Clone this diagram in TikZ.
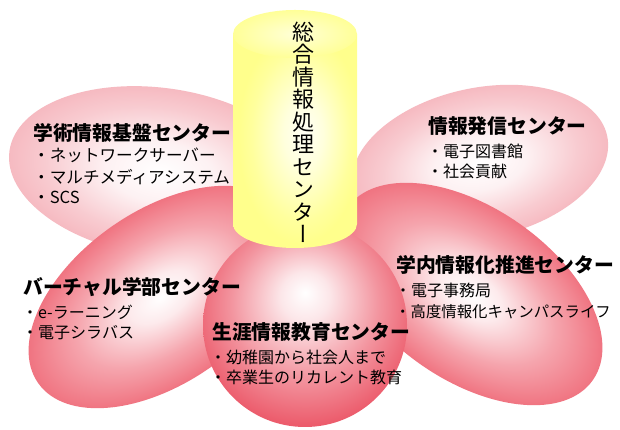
\documentclass[tikz,border=0pt]{standalone}
\usepackage{fontspec}
\newfontfamily\jp{Noto Sans CJK JP}
\newfontfamily\jpv[RawFeature=+vert]{Noto Sans CJK JP}
\definecolor{ptop}{RGB}{246,186,193}
\definecolor{pbot}{RGB}{240,116,129}
\definecolor{pcir}{RGB}{236,92,108}
\definecolor{cyl}{RGB}{255,255,140}
\pgfdeclareradialshading{shtop}{\pgfpointorigin}{color(0bp)=(white); color(9bp)=(ptop!20!white); color(19bp)=(ptop!75!white); color(25bp)=(ptop); color(50bp)=(ptop)}
\pgfdeclareradialshading{shbot}{\pgfpointorigin}{color(0bp)=(white); color(6bp)=(pbot!15!white); color(16bp)=(pbot!65!white); color(25bp)=(pbot); color(50bp)=(pbot)}
\pgfdeclareradialshading{shcir}{\pgfpoint{0bp}{8bp}}{color(0bp)=(white); color(6bp)=(pcir!15!white); color(18bp)=(pcir!65!white); color(28bp)=(pcir); color(50bp)=(pcir)}
\pgfdeclareradialshading{shcyl}{\pgfpoint{4bp}{2bp}}{color(0bp)=(cyl!8!white); color(8bp)=(cyl!30!white); color(20bp)=(cyl!85!white); color(25bp)=(cyl); color(50bp)=(cyl)}
\pgfdeclareradialshading{shcap}{\pgfpointorigin}{color(0bp)=(cyl!35!white); color(25bp)=(cyl!90!white); color(50bp)=(cyl!90!white)}
\begin{document}
\begin{tikzpicture}[x=1pt,y=1pt,
  head/.style={font=\jp\bfseries\fontsize{19.8}{20}\selectfont, anchor=west, inner sep=0pt, text height=17.4pt, text depth=2.4pt},
  item/.style={font=\jp\fontsize{16}{17}\selectfont, anchor=west, inner sep=0pt, text height=14.1pt, text depth=1.9pt}]
\useasboundingbox[fill=white] (0,0) rectangle (620,430);
% upper petals
\shade[shading=shtop, transform canvas={shift={(160,258)}, rotate=-8}] (0,0) ellipse [x radius=152, y radius=84];
\shade[shading=shtop, transform canvas={shift={(480,267)}, rotate=12}] (0,0) ellipse [x radius=130, y radius=75];
% lower petals
\shade[shading=shbot, transform canvas={shift={(161,133)}, rotate=35}] (0,0) ellipse [x radius=150, y radius=86];
\shade[shading=shbot, transform canvas={shift={(470,136)}, rotate=-35}] (0,0) ellipse [x radius=150, y radius=86];
% centre circle
\shade[shading=shcir] (305,105) circle [radius=102];
% cylinder
\shade[shading=shcyl] (233,396) -- (233,206) arc[start angle=180, end angle=360, x radius=62, y radius=24] -- (357,396) -- cycle;
\shade[shading=shcap] (295,396) ellipse [x radius=62, y radius=24];
\node[font=\jpv\fontsize{22}{22.5}\selectfont, align=center, inner sep=0pt] (ct) at (303,297.5) {総\\合\\情\\報\\処\\理\\セ\\ン\\タ\\ー};
% labels
\node[head] (tlh) at (33,297) {学術情報基盤センター};
\node[item, font=\jp\fontsize{16.6}{17}\selectfont] (tl1) at (33,275) {・ネットワークサーバー};
\node[item, font=\jp\fontsize{16.6}{17}\selectfont] (tl2) at (33,253) {・マルチメディアシステム};
\node[item, font=\jp\fontsize{16.6}{17}\selectfont] (tl3) at (33,233) {・SCS};
\node[head] (trh) at (428,304) {情報発信センター};
\node[item] (tr1) at (427,279) {・電子図書館};
\node[item] (tr2) at (427,259) {・社会貢献};
\node[head] (blh) at (23,143) {バーチャル学部センター};
\node[item] (bl1) at (22,118) {・e-ラーニング};
\node[item] (bl2) at (22,98) {・電子シラバス};
\node[head] (ch) at (212,98) {生涯情報教育センター};
\node[item] (c1) at (210,73) {・幼稚園から社会人まで};
\node[item] (c2) at (210,53) {・卒業生のリカレント教育};
\node[head] (brh) at (396,165) {学内情報化推進センター};
\node[item] (br1) at (395,139.5) {・電子事務局};
\node[item, font=\jp\fontsize{15.4}{17}\selectfont] (br2) at (395,119) {・高度情報化キャンパスライフ};
\end{tikzpicture}
\end{document}
